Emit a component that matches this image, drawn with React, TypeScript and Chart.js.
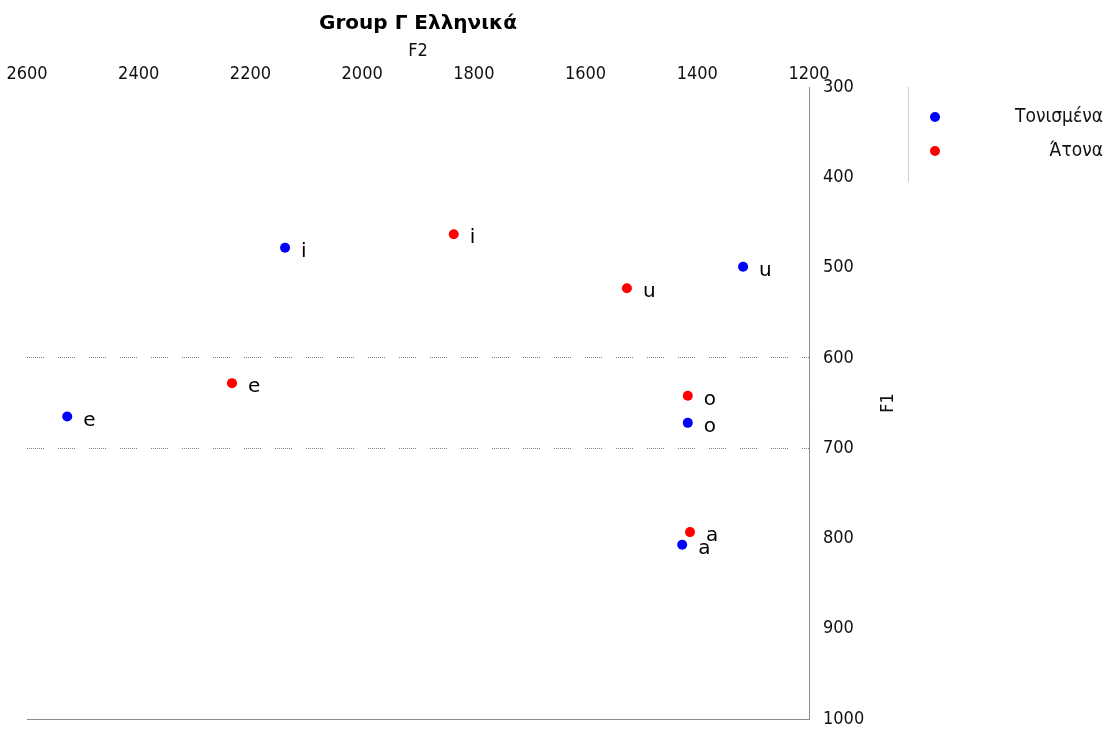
import React, { useEffect, useRef } from "react";
import { Chart, registerables } from "chart.js";

Chart.register(...registerables);

const chartTitle = "Group Γ Ελληνικά";
const xTitle = "F2";
const yTitle = "F1";
const vowels = ["i", "e", "a", "o", "u"];
const seriesNames = ["Τονισμένα", "Άτονα"];
const seriesColors = ["#0000ff", "#ff0000"];
const stressedF2 = [2138, 2528, 1427, 1417, 1318];
const stressedF1 = [478, 665, 807, 672, 499];
const unstressedF2 = [1836, 2233, 1413, 1417, 1526];
const unstressedF1 = [463, 628, 793, 642, 523];
const f2Ticks = [2600, 2400, 2200, 2000, 1800, 1600, 1400, 1200];
const f1Ticks = [300, 400, 500, 600, 700, 800, 900, 1000];
const f1GridValues = [600, 700];

const FONT = "'DejaVu Sans Condensed', 'Liberation Sans', sans-serif";
const LABEL_FONT = "'DejaVu Sans', sans-serif";

const overlayPlugin = {
  id: "overlay",
  afterLayout(chart: any) {
    // centre the chart title over the plot area
    const tb = chart.titleBlock;
    if (tb) {
      tb.left = chart.chartArea.left;
      tb.right = chart.chartArea.right;
      tb.width = tb.right - tb.left;
    }
  },
  afterDatasetsDraw(chart: any) {
    const { ctx, chartArea } = chart;
    ctx.save();
    // bottom axis line
    ctx.strokeStyle = "#8c8c8c";
    ctx.lineWidth = 1;
    const by = Math.round(chartArea.bottom) + 0.5;
    ctx.beginPath();
    ctx.moveTo(chartArea.left, by);
    ctx.lineTo(chartArea.right, by);
    ctx.stroke();

    // point labels
    ctx.fillStyle = "#000";
    ctx.font = `20px ${LABEL_FONT}`;
    ctx.textAlign = "left";
    ctx.textBaseline = "alphabetic";
    chart.data.datasets.forEach((ds: any, di: number) => {
      const meta = chart.getDatasetMeta(di);
      meta.data.forEach((pt: any, i: number) => {
        ctx.fillText(vowels[i], pt.x + 16, pt.y + 9);
      });
    });

    // y axis title (reads bottom-to-top)
    ctx.save();
    ctx.font = `18px ${FONT}`;
    ctx.fillStyle = "#111";
    ctx.textAlign = "center";
    ctx.textBaseline = "middle";
    ctx.translate(chartArea.right + 79, (chartArea.top + chartArea.bottom) / 2);
    ctx.rotate(-Math.PI / 2);
    ctx.fillText(yTitle, 0, 0);
    ctx.restore();

    // legend
    const lx = Math.round(chartArea.right + 99) + 0.5;
    ctx.strokeStyle = "#cfcfcf";
    ctx.beginPath();
    ctx.moveTo(lx, chartArea.top);
    ctx.lineTo(lx, chartArea.top + 95);
    ctx.stroke();
    ctx.font = `19px ${FONT}`;
    ctx.textAlign = "right";
    ctx.textBaseline = "middle";
    chart.data.datasets.forEach((ds: any, di: number) => {
      const y = chartArea.top + 30 + di * 34;
      ctx.fillStyle = ds.backgroundColor;
      ctx.beginPath();
      ctx.arc(lx + 26.5, y, 5, 0, Math.PI * 2);
      ctx.fill();
      ctx.fillStyle = "#111";
      ctx.fillText(ds.label, chart.width - 4, y);
    });
    ctx.restore();
  },
};

export default function App() {
  const canvasRef = useRef<HTMLCanvasElement | null>(null);

  useEffect(() => {
    if (!canvasRef.current) return;
    const mk = (xs: number[], ys: number[]) => xs.map((x, i) => ({ x, y: ys[i] }));
    const chart = new Chart(canvasRef.current, {
      type: "scatter",
      data: {
        datasets: [
          {
            label: seriesNames[0],
            data: mk(stressedF2, stressedF1),
            backgroundColor: seriesColors[0],
            borderColor: seriesColors[0],
            pointRadius: 5,
            pointBorderWidth: 0,
          },
          {
            label: seriesNames[1],
            data: mk(unstressedF2, unstressedF1),
            backgroundColor: seriesColors[1],
            borderColor: seriesColors[1],
            pointRadius: 5,
            pointBorderWidth: 0,
          },
        ],
      },
      options: {
        responsive: false,
        animation: false,
        layout: { padding: { left: 27, right: 199, top: 0, bottom: 10 } },
        plugins: {
          legend: { display: false },
          tooltip: { enabled: false },
          title: {
            display: true,
            text: chartTitle,
            color: "#000",
            font: { family: "'DejaVu Sans', sans-serif", size: 20, weight: "bold", lineHeight: 1.2 },
            padding: { top: 12, bottom: 0 },
          },
        },
        scales: {
          x: {
            type: "linear",
            position: "top",
            reverse: true,
            min: 1200,
            max: 2600,
            afterBuildTicks: (scale: any) => {
              scale.ticks = f2Ticks.map((v) => ({ value: v }));
            },
            ticks: {
              color: "#111",
              font: { family: FONT, size: 18 },
              padding: 2,
              maxRotation: 0,
              autoSkip: false,
              callback: (v: any) => String(v),
            },
            grid: { display: false, drawTicks: false },
            border: { display: false },
            title: {
              display: true,
              text: xTitle,
              color: "#111",
              font: { family: FONT, size: 18 },
              padding: { top: 5, bottom: 0 },
            },
            afterFit: (scale: any) => {
              scale.height = 51;
            },
          },
          y: {
            type: "linear",
            position: "right",
            reverse: true,
            min: 300,
            max: 1000,
            afterBuildTicks: (scale: any) => {
              scale.ticks = f1Ticks.map((v) => ({ value: v }));
            },
            ticks: {
              color: "#111",
              font: { family: FONT, size: 18 },
              padding: 14,
              autoSkip: false,
              callback: (v: any) => String(v),
            },
            grid: {
              drawTicks: false,
              color: (c: any) =>
                c.tick && f1GridValues.includes(c.tick.value) ? "#808080" : "rgba(0,0,0,0)",
              lineWidth: 1,
            },
            border: {
              display: true,
              color: "#8c8c8c",
              width: 1,
              dash: [1, 1, 1, 1, 1, 1, 1, 1, 1, 1, 1, 1, 1, 1, 1, 1, 1, 14],
            },
            title: { display: false },
            afterFit: (scale: any) => {
              scale.width = 99;
              scale.paddingTop = 0;
              scale.paddingBottom = 0;
            },
          },
        },
      },
      plugins: [overlayPlugin],
    } as any);
    return () => chart.destroy();
  }, []);

  return (
    <div style={{ position: "absolute", left: 0, top: 0, width: 1107, height: 729, background: "#fff" }}>
      <canvas ref={canvasRef} width={1107} height={729} style={{ display: "block" }} />
    </div>
  );
}
